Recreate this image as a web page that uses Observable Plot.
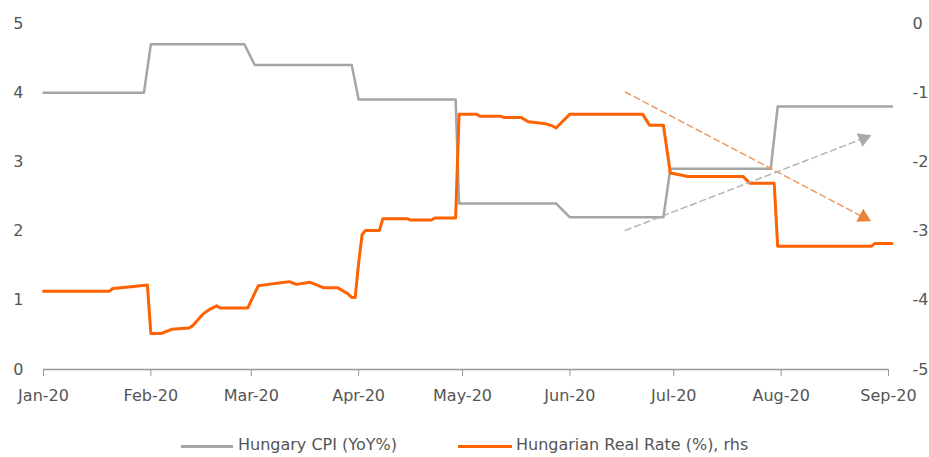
<!DOCTYPE html>
<html>
<head>
<meta charset="utf-8">
<script src="https://cdn.jsdelivr.net/npm/d3@7"></script>
<script src="https://cdn.jsdelivr.net/npm/@observablehq/plot@0.6"></script>
<style>
  html, body { margin: 0; padding: 0; background: #fff; }
  #wrap { position: relative; width: 929px; height: 457px; font-family: "DejaVu Sans", sans-serif; }
  .leg { position: absolute; top: 436px; font-size: 16px; color: #555; line-height: 18px; white-space: nowrap; }
  .sw { position: absolute; top: 445px; height: 3px; }
</style>
</head>
<body>
<div id="wrap">
  <div id="chart"></div>
  <div class="sw" style="left:181px;width:52px;background:#A5A5A5"></div>
  <div class="leg" style="left:238px">Hungary CPI (YoY%)</div>
  <div class="sw" style="left:458px;width:54px;background:#FF6200"></div>
  <div class="leg" style="left:516px">Hungarian Real Rate (%), rhs</div>
</div>
<script>
// Hungary CPI (YoY%), left axis
const cpiDates = ["2020-01-01","2020-01-30","2020-02-01","2020-02-28","2020-03-02","2020-03-30","2020-04-01","2020-04-29","2020-04-30","2020-05-28","2020-06-01","2020-06-28","2020-06-30","2020-07-29","2020-07-31","2020-09-02"];
const cpiValues = [4.0,4.0,4.7,4.7,4.4,4.4,3.9,3.9,2.4,2.4,2.2,2.2,2.9,2.9,3.8,3.8];

// Hungarian real rate (%), right axis
const rateDates = ["2020-01-01","2020-01-20","2020-01-21","2020-01-27","2020-01-31","2020-02-01","2020-02-04","2020-02-07","2020-02-12","2020-02-13","2020-02-16","2020-02-18","2020-02-20","2020-02-21","2020-02-29","2020-03-03","2020-03-06","2020-03-09","2020-03-12","2020-03-14","2020-03-18","2020-03-22","2020-03-26","2020-03-29","2020-03-30","2020-03-31","2020-04-01","2020-04-02","2020-04-03","2020-04-07","2020-04-08","2020-04-15","2020-04-16","2020-04-22","2020-04-23","2020-04-29","2020-04-30","2020-05-05","2020-05-06","2020-05-12","2020-05-13","2020-05-18","2020-05-20","2020-05-25","2020-05-27","2020-05-28","2020-06-01","2020-06-22","2020-06-24","2020-06-28","2020-06-30","2020-07-03","2020-07-05","2020-07-21","2020-07-23","2020-07-30","2020-07-31","2020-08-27","2020-08-28","2020-09-02"];
const rateValues = [-3.87,-3.87,-3.83,-3.80,-3.78,-4.48,-4.48,-4.42,-4.40,-4.37,-4.20,-4.13,-4.08,-4.11,-4.11,-3.79,-3.77,-3.75,-3.73,-3.77,-3.74,-3.82,-3.82,-3.91,-3.96,-3.96,-3.46,-3.05,-2.99,-2.99,-2.82,-2.82,-2.84,-2.84,-2.81,-2.81,-1.31,-1.31,-1.34,-1.34,-1.36,-1.36,-1.42,-1.45,-1.48,-1.51,-1.31,-1.31,-1.47,-1.47,-2.16,-2.19,-2.21,-2.21,-2.31,-2.31,-3.22,-3.22,-3.18,-3.18];

// Trend arrows (left-axis units)
const arrowDates = ["2020-06-17T00:00Z","2020-08-24T19:00Z"];
const rateTrend = [4.01, 2.20];
const cpiTrend = [2.01, 3.34];

const yTicks = [0,1,2,3,4,5];
const rhsOffset = 5;

const cpi = cpiDates.map((d,i) => ({date: new Date(d), v: cpiValues[i]}));
const rate = rateDates.map((d,i) => ({date: new Date(d), v: rateValues[i]}));
const rateArrow = arrowDates.map((d,i) => ({date: new Date(d), v: rateTrend[i]}));
const cpiArrow = arrowDates.map((d,i) => ({date: new Date(d), v: cpiTrend[i]}));

const chart = Plot.plot({
  width: 929,
  height: 412,
  marginLeft: 43,
  marginRight: 41,
  marginTop: 23,
  marginBottom: 43,
  x: {type: "utc", domain: [new Date("2020-01-01"), new Date("2020-09-01")]},
  y: {domain: [0, 5]},
  style: {fontFamily: "DejaVu Sans, sans-serif", fontSize: "16px", color: "#555", background: "#fff"},
  marks: [
    Plot.axisX({ticks: d3.utcMonth.every(1), tickFormat: () => "", tickSize: 7, color: "#999", label: null}),
    Plot.axisX({ticks: d3.utcMonth.every(1), tickFormat: d3.utcFormat("%b-%y"), tickSize: 0, tickPadding: 20, color: "#555", label: null}),
    Plot.axisY({anchor: "left", ticks: yTicks, tickFormat: d => String(d), tickSize: 0, tickPadding: 20, color: "#555", label: null}),
    Plot.axisY({anchor: "right", ticks: yTicks, tickFormat: d => String(d - rhsOffset), tickSize: 0, tickPadding: 24, color: "#555", label: null, textAnchor: "start"}),
    Plot.ruleY([0], {stroke: "#999", strokeWidth: 1.5}),
    Plot.line(cpi, {x: "date", y: "v", stroke: "#A5A5A5", strokeWidth: 2.5}),
    Plot.line(rate, {x: "date", y: d => d.v + rhsOffset, stroke: "#FF6200", strokeWidth: 3}),
    Plot.line(rateArrow, {x: "date", y: "v", stroke: "#EF9A62", strokeWidth: 1.5, strokeDasharray: "6,4"}),
    Plot.line(cpiArrow, {x: "date", y: "v", stroke: "#B4B4B4", strokeWidth: 1.5, strokeDasharray: "6,4"}),
    Plot.dot(rateArrow.slice(1), {x: "date", y: "v", symbol: "triangle", r: 5.5, fill: "#E8833C", stroke: "none", rotate: 117.8}),
    Plot.dot(cpiArrow.slice(1), {x: "date", y: "v", symbol: "triangle", r: 5.5, fill: "#AAAAAA", stroke: "none", rotate: 67.7})
  ]
});
document.getElementById("chart").appendChild(chart);
</script>
</body>
</html>
